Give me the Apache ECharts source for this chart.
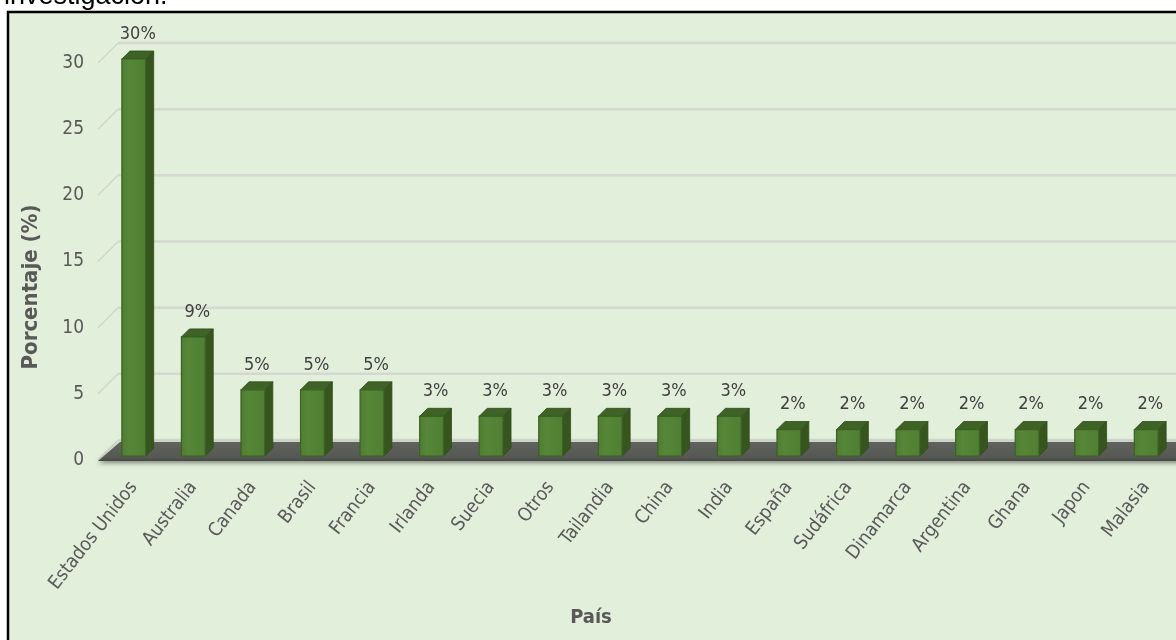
<!DOCTYPE html>
<html>
<head>
<meta charset="utf-8">
<title>Porcentaje por país</title>
<script src="https://cdn.jsdelivr.net/npm/echarts@6/dist/echarts.min.js"></script>
<style>
  html, body { margin: 0; padding: 0; background: #ffffff; }
  #chart { width: 1176px; height: 640px; }
</style>
</head>
<body>
<div id="chart"></div>
<script>
// Countries and their share (%) of the reviewed studies
const countries = ['Estados Unidos', 'Australia', 'Canada', 'Brasil', 'Francia', 'Irlanda', 'Suecia', 'Otros',
  'Tailandia', 'China', 'India', 'España', 'Sudáfrica', 'Dinamarca', 'Argentina', 'Ghana', 'Japon', 'Malasia'];
const percentages = [30, 9, 5, 5, 5, 3, 3, 3, 3, 3, 3, 2, 2, 2, 2, 2, 2, 2];
const yTicks = [0, 5, 10, 15, 20, 25, 30];

const FONT = "'Liberation Sans Narrow', 'DejaVu Sans Condensed', 'Open Sans', sans-serif";
const TEXT_GRAY = '#595959';

// pseudo-3D geometry of the plot box
const WALL = 20;      // depth of the back wall / floor
const BAR_DEPTH = 8;  // depth of each bar
const BAR_INSET = 4;  // how far bars sit behind the floor's front edge

const chart = echarts.init(document.getElementById('chart'), null, { renderer: 'canvas' });

// back-wall gridlines with their diagonal connectors to the value labels
function renderGrid(params, api) {
  const cs = params.coordSys;
  const p = api.coord([0, api.value(1)]);
  const y = p[1];
  const left = cs.x;
  const right = cs.x + cs.width + 30;
  return {
    type: 'group',
    children: [
      { type: 'line', shape: { x1: left - 6, y1: y, x2: left + WALL - 6, y2: y - WALL },
        style: { stroke: '#d1d5cd', lineWidth: 1.5 } },
      { type: 'line', shape: { x1: left + WALL - 6, y1: y - WALL, x2: right, y2: y - WALL },
        style: { stroke: '#d4d8d0', lineWidth: 2.5 } }
    ]
  };
}

// dark floor slab under the bars
function renderFloor(params, api) {
  const cs = params.coordSys;
  const p = api.coord([0, 0]);
  const y0 = p[1];
  const left = cs.x - 6;
  const right = cs.x + cs.width + 40;
  return {
    type: 'group',
    children: [
      { type: 'polygon',
        shape: { points: [[left, y0 + 1], [right, y0 + 1], [right, y0 - WALL + 2], [left + WALL + 2, y0 - WALL + 2]] },
        style: {
          fill: new echarts.graphic.LinearGradient(0, 0, 0, 1, [
            { offset: 0, color: '#60635d' },
            { offset: 0.8, color: '#565953' },
            { offset: 1, color: '#464843' }
          ]),
          shadowBlur: 5, shadowColor: 'rgba(0,0,0,0.45)', shadowOffsetY: 2
        } }
    ]
  };
}

// a box-shaped bar: front face, right side, top, and its value label
function renderBar(params, api) {
  const idx = api.value(0);
  const val = api.value(1);
  const base = api.coord([idx, 0]);
  const top = api.coord([idx, val]);
  const w = api.size([1, 0])[0] * 0.4;
  const d = BAR_DEPTH;
  const x0 = base[0] - w / 2;
  const x1 = x0 + w;
  const yb = base[1] - BAR_INSET;
  const yt = top[1] - BAR_INSET;
  return {
    type: 'group',
    children: [
      { type: 'polygon',
        shape: { points: [[x1, yb], [x1 + d, yb - d], [x1 + d, yt - d], [x1, yt]] },
        style: { fill: '#37561f', stroke: '#2f4a1b', lineWidth: 0.8 } },
      { type: 'polygon',
        shape: { points: [[x0, yt], [x0 + d, yt - d], [x1 + d, yt - d], [x1, yt]] },
        style: { fill: '#3f6327', stroke: '#2f4a1b', lineWidth: 0.8 } },
      { type: 'rect',
        shape: { x: x0, y: yt, width: w, height: yb - yt },
        style: {
          fill: new echarts.graphic.LinearGradient(0, 0, 1, 0, [
            { offset: 0, color: '#4f7c33' },
            { offset: 0.3, color: '#568637' },
            { offset: 1, color: '#507f34' }
          ]),
          stroke: '#3b6123', lineWidth: 1.2
        } },
      { type: 'text',
        style: {
          text: val + '%', x: x0 + (w + d) / 2, y: yt - d - 8,
          align: 'center', verticalAlign: 'bottom',
          fill: '#404040', font: '18px ' + FONT
        } }
    ]
  };
}

chart.setOption({
  animation: false,
  backgroundColor: '#ffffff',
  textStyle: { fontFamily: FONT },
  grid: { left: 104, right: 0, top: 63, bottom: 180, containLabel: false },
  graphic: [
    { type: 'rect', z: -10, shape: { x: 8, y: 12, width: 1200, height: 660 },
      style: { fill: '#e2efda', stroke: '#000000', lineWidth: 2.5 } },
    { type: 'text', x: 4, y: 10,
      style: { text: 'investigación.', fill: '#000000', font: '27px Arial, "Liberation Sans", sans-serif',
        verticalAlign: 'bottom' } },
    { type: 'text', x: 31, y: 287, rotation: Math.PI / 2,
      style: { text: 'Porcentaje (%)', fill: TEXT_GRAY, font: 'bold 22px ' + FONT,
        align: 'center', verticalAlign: 'middle' } },
    { type: 'text', x: 591, y: 618,
      style: { text: 'País', fill: TEXT_GRAY, font: 'bold 20px ' + FONT,
        align: 'center', verticalAlign: 'middle' } }
  ],
  xAxis: {
    type: 'category',
    data: countries,
    axisLine: { show: false },
    axisTick: { show: false },
    axisLabel: { interval: 0, rotate: 52, margin: 24, color: TEXT_GRAY, fontSize: 19, fontFamily: FONT }
  },
  yAxis: {
    type: 'value',
    min: 0, max: 30, interval: 5,
    axisLine: { show: false },
    axisTick: { show: false },
    splitLine: { show: false },
    axisLabel: { margin: 20, color: TEXT_GRAY, fontSize: 19, fontFamily: FONT }
  },
  series: [
    { type: 'custom', z: 1, silent: true, clip: false,
      data: yTicks.map(v => [0, v]), renderItem: renderGrid },
    { type: 'custom', z: 2, silent: true, clip: false,
      data: [[0, 0]], renderItem: renderFloor },
    { type: 'custom', z: 3, clip: false,
      data: percentages.map((v, i) => [i, v]), renderItem: renderBar }
  ]
});
</script>
</body>
</html>
